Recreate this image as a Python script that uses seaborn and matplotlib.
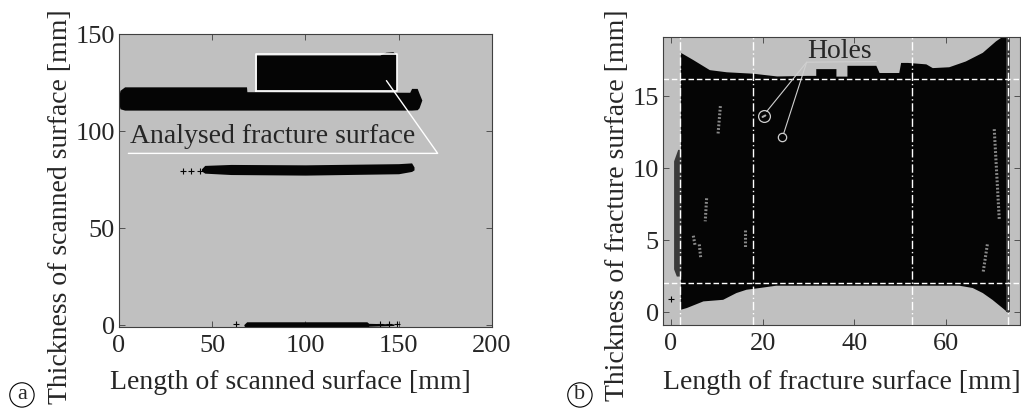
import matplotlib
matplotlib.use("Agg")
import matplotlib.pyplot as plt
import seaborn as sns
import pandas as pd

# ---- panel (a): scanned surface outlines [mm]
band_x = [-0.5, 0.5, 3, 68.4, 68.6, 156, 157, 160, 161, 162.5]
band_top = [116, 121, 122.8, 122.8, 120.3, 120, 122, 122, 119.5, 116]
band_bot = [116, 111.5, 110.8, 110.8, 110.8, 110.8, 110.8, 111.0, 112, 116]

blk_x = [73.7, 140, 143, 147, 148.9]
blk_top = [139.2, 139.2, 140.6, 140.9, 139.2]
blk_bot = [121.1, 121.1, 121.1, 121.1, 121.1]

mid_x = [44.2, 46, 60, 100, 150, 157, 158.3]
mid_top = [80.5, 82.3, 82.8, 82.6, 83.2, 83.6, 81.5]
mid_bot = [79.5, 78.3, 77.6, 77.3, 78.0, 79.2, 80.0]

low_x = [67, 68.5, 133, 134, 147.5]
low_top = [0.3, 1.7, 1.7, 0.9, 0.6]
low_bot = [-0.3, -1.8, -1.8, -0.6, -0.2]

plus_a_x = [34.4, 38.8, 43.3, 63, 140, 145, 149]
plus_a_y = [79.5, 79.5, 79.5, 0.4, 0.4, 0.4, 0.4]

# rectangle of analysed area and the leader line
roi_x = [73.5, 149, 149, 73.5, 73.5]
roi_y = [120.8, 120.8, 139.7, 139.7, 120.8]
lead_a_x = [5, 171, 143.5]
lead_a_y = [88.5, 88.5, 126]

# ---- panel (b): fracture surface outline [mm]
top_x = [2.2, 4.9, 8.5, 12.2, 18, 23.2, 29.7, 31.7, 31.7, 36.1, 36.1, 38.5, 38.5,
         44.8, 45.5, 49.8, 50.2, 51.7, 55.7, 57.1, 60.7, 64.3, 68, 70.9, 73.0, 73.6]
top_y = [18.0, 17.5, 16.8, 16.65, 16.55, 16.36, 16.4, 16.4, 16.87, 16.87, 16.35, 16.35, 17.1,
         17.1, 16.6, 16.6, 17.3, 17.3, 17.2, 16.94, 17.0, 17.4, 18.0, 18.8, 19.26, 19.1]
bot_x = [73.6, 72.3, 70.1, 68, 65.8, 62.9, 30.3, 23, 19.4, 16.5, 14.3, 11.4, 7.1, 3.5, 2.2]
bot_y = [-0.07, 0.28, 0.85, 1.32, 1.67, 1.83, 1.83, 1.83, 1.67, 1.55, 1.32, 0.85, 0.74, 0.28, 0.16]

# stippled edges
edge_l_y = [2.5, 3.0, 10.5, 11.3]
edge_l_x = [1.2, 0.6, 0.6, 1.5]
edge_r_y = [0.0, 19.0]
edge_r_x = [73.0, 73.0]

# light streaks inside the surface (x0, y0, x1, y1)
streaks = [(10.8, 14.3, 10.3, 12.4), (7.8, 7.9, 7.5, 6.3), (4.9, 5.3, 5.3, 4.6),
           (6.2, 4.7, 6.5, 3.8), (16.15, 5.7, 16.15, 4.55), (70.5, 12.7, 71.6, 6.4),
           (69.0, 4.7, 68.1, 2.8)]

holes_x = [20.3, 24.3]
holes_y = [13.6, 12.15]
holes_size = [8.5, 6]

vlines_b = [2.0, 18.0, 52.5, 73.6]
hlines_b = [2.0, 16.2]

GRAY = "#c0c0c0"
BLACK = "#050505"

sns.set_theme(style="ticks")
plt.rcParams["font.family"] = ["Liberation Serif", "DejaVu Serif"]
FS = 19

fig = plt.figure(figsize=(10.21, 4.08), dpi=100)
ax1 = fig.add_axes([0.1166, 0.1985, 0.365, 0.718])
ax2 = fig.add_axes([0.6494, 0.2034, 0.3500, 0.7059])

for ax in (ax1, ax2):
    ax.set_facecolor(GRAY)
    for s in ax.spines.values():
        s.set_color("#404040")
        s.set_linewidth(0.8)
    ax.tick_params(direction="in", length=4, width=0.6, color="#404040",
                   top=True, right=True, labelsize=FS)
    ax.tick_params(axis="x", pad=6)
    ax.tick_params(axis="y", pad=3)

# ---- panel a
ax1.fill_between(band_x, band_bot, band_top, color=BLACK, lw=0)
ax1.fill_between(blk_x, blk_bot, blk_top, color=BLACK, lw=0)
ax1.fill_between(mid_x, mid_bot, mid_top, color=BLACK, lw=0)
ax1.fill_between(low_x, low_bot, low_top, color=BLACK, lw=0)
sns.scatterplot(x=plus_a_x, y=plus_a_y, marker="+", color=BLACK, s=25, linewidth=0.8, ax=ax1)
ax1.plot(roi_x, roi_y, color="white", lw=1.2)
ax1.plot(lead_a_x, lead_a_y, color="white", lw=1.0)
ax1.text(5.8, 94, "Analysed fracture surface", fontsize=20, ha="left", va="baseline")

ax1.set_xlim(0, 200)
ax1.set_ylim(-1, 150)
ax1.set_xticks([0, 50, 100, 150, 200])
ax1.set_yticks([0, 50, 100, 150])
ax1.set_xlabel("Length of scanned surface [mm]", fontsize=20)
ax1.set_ylabel("Thickness of scanned surface [mm]", fontsize=20)
ax1.xaxis.label.set_va("center")
ax1.yaxis.label.set_va("center")
ax1.xaxis.set_label_coords(0.459, -0.19)
ax1.yaxis.set_label_coords(-0.158, 0.41)

# ---- panel b
ax2.fill(top_x + bot_x, top_y + bot_y, color=BLACK, lw=0)
ax2.fill_betweenx(edge_l_y, edge_l_x, [2.2] * len(edge_l_y), color="#3a3a3a", lw=0)
ax2.fill_betweenx(edge_r_y, edge_r_x, [74.0, 74.0], color="#3a3a3a", lw=0)
for x0, y0, x1, y1 in streaks:
    ax2.plot([x0, x1], [y0, y1], color="#8a8a8a", lw=2.2, ls=(0, (0.6, 0.6)))
for v in vlines_b:
    ax2.axvline(v, color="white", lw=1.0, ls=(0, (6, 2, 1, 2)))
for h in hlines_b:
    ax2.axhline(h, color="white", lw=1.0, ls=(0, (4, 2)))

holes = pd.DataFrame({"x": holes_x, "y": holes_y, "s": holes_size})
for _, r in holes.iterrows():
    ax2.plot(r["x"], r["y"], marker="o", ms=r["s"], mfc="none", mec="#d0d0d0", mew=0.9)
ax2.plot([20.0, 20.6], [13.55, 13.65], color="#b0b0b0", lw=1.5)
ax2.plot([44.8, 29.6, 20.9], [17.4, 17.35, 13.93], color="#d0d0d0", lw=0.8)
ax2.plot([29.6, 24.6], [17.35, 12.4], color="#d0d0d0", lw=0.8)
ax2.text(29.8, 17.65, "Holes", fontsize=20, ha="left", va="baseline")
sns.scatterplot(x=[0.0], y=[0.92], marker="+", color=BLACK, s=25, linewidth=0.8, ax=ax2)

ax2.set_xlim(-1.7, 76.2)
ax2.set_ylim(-0.9, 19.1)
ax2.set_xticks([0, 20, 40, 60])
ax2.set_yticks([0, 5, 10, 15])
ax2.set_xlabel("Length of fracture surface [mm]", fontsize=20)
ax2.set_ylabel("Thickness of fracture surface [mm]", fontsize=20)
ax2.xaxis.label.set_va("center")
ax2.yaxis.label.set_va("center")
ax2.xaxis.set_label_coords(0.5, -0.2)
ax2.yaxis.set_label_coords(-0.128, 0.417)

# circled panel letters
for xpos, lab in [(0.0215, "a"), (0.568, "b")]:
    fig.text(xpos, 0.032, lab, fontsize=16, ha="center", va="center",
             bbox=dict(boxstyle="circle,pad=0.12", fc="none", ec="black", lw=0.8))

fig.savefig("out.png", dpi=100)
